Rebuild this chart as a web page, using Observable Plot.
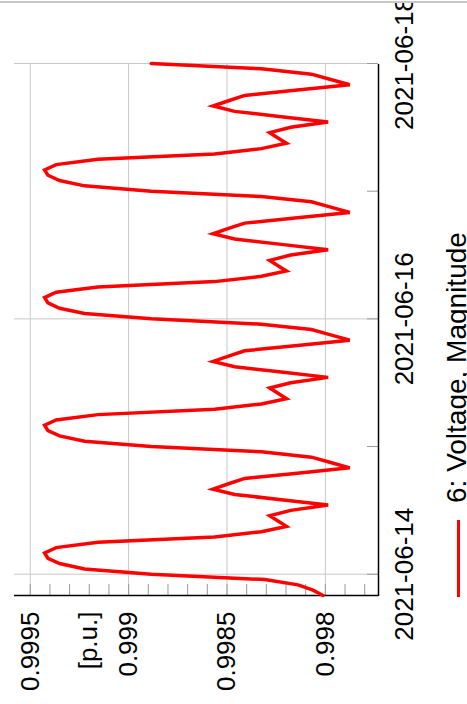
<!DOCTYPE html>
<html>
<head>
<meta charset="utf-8">
<script src="https://cdn.jsdelivr.net/npm/d3@7"></script>
<script src="https://cdn.jsdelivr.net/npm/@observablehq/plot@0.6"></script>
<style>
  html, body { margin: 0; padding: 0; overflow: hidden; background: #fff; width: 467px; height: 704px; }
  #rot { position: absolute; left: 0; top: 0; width: 704px; height: 467px; transform-origin: 0 0;
         transform: translate(0, 704px) rotate(-90deg); background: #fff;
         font-family: "Liberation Sans", Arial, sans-serif; color: #000; }
  #chart { position: absolute; left: 0; top: 0; width: 701px; height: 420px; overflow: hidden; }
  #edge { position: absolute; left: 701px; top: 0; width: 2px; height: 467px; background: #c8c8c8; }
  #swatch { position: absolute; left: 107px; top: 457px; width: 77px; height: 3px; background: #ff0000; }
  #legtext { position: absolute; left: 201px; top: 443px; font-size: 28px; line-height: 28px; white-space: nowrap; }
</style>
</head>
<body>
<div id="rot">
  <div id="chart"></div>
  <div id="edge"></div>
  <div id="swatch"></div>
  <div id="legtext"></div>
</div>
<script>
// ---- data (hourly samples) ----
const seriesName = "6: Voltage, Magnitude";
const yAxisLabel = "[p.u.]";
const startTime = "2021-06-13T20:00:00Z";
const endTime = "2021-06-18T00:00:00Z";

const voltage = [
  // 2021-06-13 20:00 .. 23:00
  0.998012, 0.998063, 0.998139, 0.998308,
  // 2021-06-14
  0.998885, 0.999224, 0.999351, 0.999410, 0.999427, 0.999368, 0.999156, 0.998563,
  0.998325, 0.998198, 0.998241, 0.998283, 0.998176, 0.997986, 0.998224, 0.998461,
  0.998571, 0.998492, 0.998410, 0.998142, 0.997876, 0.997973, 0.998071, 0.998325,
  // 2021-06-15
  0.998885, 0.999224, 0.999351, 0.999410, 0.999427, 0.999368, 0.999156, 0.998563,
  0.998325, 0.998198, 0.998241, 0.998283, 0.998176, 0.997986, 0.998224, 0.998461,
  0.998571, 0.998492, 0.998410, 0.998142, 0.997876, 0.997973, 0.998071, 0.998325,
  // 2021-06-16
  0.998885, 0.999224, 0.999351, 0.999410, 0.999427, 0.999368, 0.999156, 0.998563,
  0.998325, 0.998198, 0.998241, 0.998283, 0.998176, 0.997986, 0.998224, 0.998461,
  0.998571, 0.998492, 0.998410, 0.998142, 0.997876, 0.997973, 0.998071, 0.998325,
  // 2021-06-17
  0.998885, 0.999224, 0.999351, 0.999410, 0.999427, 0.999368, 0.999156, 0.998563,
  0.998325, 0.998198, 0.998241, 0.998283, 0.998176, 0.997986, 0.998224, 0.998461,
  0.998571, 0.998492, 0.998410, 0.998142, 0.997876, 0.997973, 0.998071, 0.998325,
  // 2021-06-18 00:00
  0.998885
];

const dayTicks = ["2021-06-14", "2021-06-15", "2021-06-16", "2021-06-17", "2021-06-18"];
const labeledDays = ["2021-06-14", "2021-06-16", "2021-06-18"];
const majorVolts = [0.998, 0.9985, 0.999, 0.9995];
const minorVolts = [0.9978, 0.9979, 0.998, 0.9981, 0.9982, 0.9983, 0.9984, 0.9985, 0.9986, 0.9987,
                    0.9988, 0.9989, 0.999, 0.9991, 0.9992, 0.9993, 0.9994, 0.9995];
const yDomain = [0.99773, 0.99958];

// ---- build ----
const t0 = new Date(startTime);
const data = voltage.map((v, i) => ({t: d3.utcHour.offset(t0, i), v}));
const toDate = s => new Date(s + "T00:00:00Z");

const chart = Plot.plot({
  width: 701,
  height: 420,
  marginLeft: 108,
  marginRight: 61,
  marginTop: 14,
  marginBottom: 42,
  style: {fontFamily: "'Liberation Sans', Arial, sans-serif", fontSize: "26px", color: "#000", background: "transparent"},
  x: {type: "utc", domain: [new Date(startTime), new Date(endTime)], label: null},
  y: {domain: yDomain, label: null},
  marks: [
    Plot.gridX(labeledDays.map(toDate), {stroke: "#c8c8c8", strokeOpacity: 1, strokeWidth: 1}),
    Plot.gridY(majorVolts, {stroke: "#c8c8c8", strokeOpacity: 1, strokeWidth: 1}),
    Plot.axisX(dayTicks.map(toDate), {tickSize: -11, tickFormat: () => "", stroke: "#999", label: null}),
    Plot.axisX(labeledDays.map(toDate), {tickSize: 0, tickPadding: 16, tickFormat: d3.utcFormat("%Y-%m-%d"), fontSize: 26, label: null}),
    Plot.axisY(minorVolts, {tickSize: -12, tickFormat: () => "", stroke: "#999", label: null}),
    Plot.axisY(majorVolts, {tickSize: 0, tickPadding: 16, tickFormat: d => String(d), fontSize: 26, label: null}),
    Plot.ruleX([new Date(startTime)], {stroke: "#000", strokeWidth: 1.5}),
    Plot.ruleY([yDomain[0]], {stroke: "#000", strokeWidth: 1.5}),
    Plot.line(data, {x: "t", y: "v", stroke: "#ff0000", strokeWidth: 3.5, strokeLinejoin: "miter", strokeMiterlimit: 4}),
    Plot.text([yAxisLabel], {frameAnchor: "top-left", dx: -16, dy: 64, textAnchor: "end", fontSize: 26})
  ]
});
document.getElementById("chart").appendChild(chart);
document.getElementById("legtext").textContent = seriesName;
</script>
</body>
</html>
